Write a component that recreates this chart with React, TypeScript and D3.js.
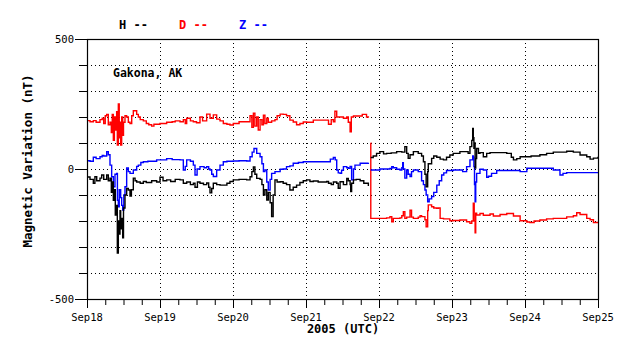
import React from "react";
import * as d3 from "d3";

// time in hours since 2005-09-18 00:00 UTC, value in nT; null marks a data gap
const hSeries: ([number, number] | null)[] = [
  [0.1,-31],[0.99,-40],[2.08,-55],[2.6,-30],[3.2,-45],[4.27,-35],[4.82,-23],[5.5,-40],[6.47,-23],[7.0,-45],[7.56,-35],[8.0,-90],[8.3,-50],[8.66,-120],[9.0,-80],[9.3,-177],[9.75,-140],[9.97,-323],[10.3,-200],[10.6,-250],[10.85,-160],[11.07,-230],[11.4,-190],[11.73,-265],[12.0,-150],[12.49,-100],[13.04,-75],[13.59,-81],[14.14,-104],[14.6,-80],[15.23,-35],[15.8,-45],[16.33,-50],[17.5,-55],[18.52,-48],[19.5,-52],[21.26,-45],[22.9,-50],[24.0,-32],[25.0,-45],[26.19,-42],[27.5,-48],[29,-40],[30.58,-42],[31.67,-55],[32.77,-50],[34.0,-60],[34.96,-55],[35.51,-70],[36.3,-50],[37.15,-55],[38.3,-60],[39.34,-54],[40.0,-70],[40.44,-92],[41.0,-75],[41.53,-55],[42.63,-60],[43.73,-62],[44.82,-62],[46,-55],[47.0,-48],[48.1,-42],[50,-40],[52.5,-42],[53.6,-30],[54.2,-10],[54.7,8],[55.2,-20],[55.8,-36],[56.9,-40],[57.5,-60],[58.0,-100],[58.5,-80],[59.1,-119],[59.6,-90],[60.2,-130],[60.7,-183],[61.2,-100],[61.8,-42],[62.5,-50],[63.5,-49],[64.5,-55],[65.6,-60],[66.7,-81],[67.8,-70],[68.9,-62],[70,-52],[71.1,-45],[72.2,-42],[73.3,-48],[74.4,-46],[76,-50],[78.8,-48],[79.4,-55],[80.3,-60],[81.0,-50],[82.1,-55],[82.6,-74],[83.2,-49],[84.3,-60],[85.4,-36],[85.9,-45],[86.5,-60],[86.7,-87],[87.0,-55],[87.6,-42],[88.5,-40],[89.8,-45],[91.0,-55],[92.5,-65],
  null,
  [93.26,44],[94.1,50],[95.2,60],[96.3,67],[97.5,58],[98.5,60],[100,62],[101.8,67],[103.5,65],[104.5,86],[105.1,60],[105.6,41],[106.2,55],[107.3,67],[108.9,60],[109.5,60],[110.0,50],[110.6,28],[111.1,-20],[111.5,-68],[112.0,-10],[112.2,20],[113.3,41],[114,50],[115.0,45],[116.1,38],[117.2,35],[118.2,45],[119.3,54],[120.4,60],[122.6,67],[124.8,67],[125.3,60],[125.9,86],[126.5,110],[126.8,156],[127.0,120],[127.2,80],[127.3,100],[127.6,4],[127.8,40],[128.1,79],[128.7,60],[129.2,63],[130.3,47],[131.4,60],[132.5,63],[135.8,63],[138.0,60],[139.5,45],[140.2,35],[141.3,40],[142.4,47],[144.6,47],[146,50],[148.9,55],[151.1,60],[153.3,65],[155.5,65],[157.7,68],[159.9,65],[162.1,54],[164.3,47],[165.4,38],[166.5,42],[168.0,47],
];

const zSeries: ([number, number] | null)[] = [
  [0.1,32],[1.0,30],[2.08,45],[3.0,40],[4.27,47],[5.0,52],[5.5,50],[6.47,67],[7.0,55],[7.56,15],[8.11,-30],[8.66,-68],[9.2,-20],[9.75,-17],[10.0,-120],[10.3,-145],[10.6,-80],[11.07,-110],[11.4,-140],[11.73,-158],[12.1,-100],[12.49,-68],[13.04,4],[13.59,-10],[14.14,-17],[15.23,-4],[16.33,10],[16.88,15],[17.7,25],[18.52,28],[20,30],[22.9,35],[24,35],[26.19,40],[28,36],[30.58,35],[31.67,-4],[32.3,10],[32.77,35],[34.0,30],[34.96,15],[35.51,-23],[36.2,0],[37.15,9],[38.5,5],[39.34,9],[40.0,0],[40.44,-4],[41.0,-20],[41.53,-29],[42.63,-4],[43.73,15],[44.82,28],[46,30],[48.1,31],[50,32],[52.5,31],[53.6,47],[54.3,65],[54.9,79],[55.8,60],[56.9,47],[57.5,20],[58.0,-10],[58.5,-4],[59.1,-50],[59.6,-81],[60.2,-40],[60.7,-17],[61.8,-10],[63.5,-1],[64.5,0],[65.6,9],[66.7,12],[67.8,22],[69.5,25],[71.1,28],[74.4,28],[78.8,28],[80,38],[81.0,44],[81.6,35],[82.1,-4],[82.6,-15],[83.2,-17],[83.7,-5],[84.3,9],[85.4,5],[85.9,3],[86.5,10],[87.0,-42],[87.6,0],[88.1,15],[89.8,22],[92.5,24],
  null,
  [93.26,-4],[94.1,-4],[96.3,0],[98.5,0],[99.6,2],[100.2,9],[100.7,5],[101.8,-1],[102.9,-4],[103.5,5],[103.8,24],[104.0,0],[104.5,-35],[105.1,-4],[105.6,-20],[106.2,-29],[106.7,-10],[107.3,-4],[108.9,-10],[110.0,-45],[110.6,-60],[111.1,-81],[111.5,-100],[112.0,-126],[112.5,-115],[113.3,-106],[114,-90],[115.0,-62],[115.8,-45],[116.6,-23],[117.3,-15],[118.2,-6],[120.4,-4],[122.6,-4],[123.5,-10],[124.8,9],[125.9,35],[126.8,50],[127.0,45],[127.2,9],[127.4,-60],[127.6,-126],[127.8,-50],[128.1,-17],[129.2,-1],[130.3,-4],[131.4,-32],[132.0,-28],[133.0,-17],[134.7,-6],[138.0,-6],[140.2,-6],[142.4,-10],[144.6,3],[148.9,3],[151.1,3],[153.3,-4],[155.5,-23],[156.5,-17],[157.7,-14],[160,-14],[164.3,-14],[168.0,-14],
];

const dSeries: ([number, number] | null)[] = [
  [0.1,186],[1.0,182],[2.08,186],[3.0,180],[4.27,190],[5.0,195],[5.5,175],[6.0,205],[6.47,210],[7.0,170],[7.56,180],[8.0,140],[8.3,210],[8.66,110],[9.0,200],[9.3,150],[9.75,220],[9.97,92],[10.3,250],[10.6,120],[10.85,180],[11.07,92],[11.4,200],[11.73,130],[12.0,180],[12.49,205],[13.04,200],[13.59,180],[14.14,175],[14.7,205],[15.23,224],[16.33,210],[16.88,200],[17.5,190],[18.52,185],[19.5,175],[20.3,170],[21.26,165],[22.0,172],[22.9,172],[24,175],[26.19,180],[28,182],[29,185],[30.58,182],[31.67,190],[32.3,175],[32.77,195],[34,185],[34.96,182],[36,178],[37.15,200],[38,185],[39.34,211],[40.44,195],[41.53,208],[42.63,192],[43.73,185],[44.82,175],[46,172],[47.0,169],[48.1,175],[50,182],[52.5,182],[53.6,205],[54.2,160],[54.7,215],[55.2,165],[55.8,200],[56.3,150],[56.9,190],[57.5,170],[58.0,207],[58.5,175],[59.1,195],[59.6,180],[60.7,185],[61.8,190],[62.5,205],[63.5,211],[64.5,210],[65.6,205],[66.7,188],[67.8,181],[68.9,170],[70,175],[71.1,181],[72.2,180],[74.4,188],[76,188],[78.8,188],[79.4,172],[80.3,190],[81.0,182],[81.5,222],[82.1,200],[83.2,200],[84.3,195],[85.4,200],[85.9,180],[86.5,143],[86.9,200],[87.6,204],[89.8,204],[90.5,210],[91.9,200],[92.5,197],
  null,
  [93.26,100],[93.3,-190],[94.1,-190],[96.3,-190],[98.5,-188],[99.6,-183],[100.2,-203],[100.7,-190],[101.8,-190],[102.9,-188],[103.5,-180],[104.0,-164],[104.5,-190],[105.1,-185],[106.2,-158],[106.7,-185],[107.3,-190],[108.9,-185],[109.5,-180],[110.0,-183],[111.1,-195],[111.5,-222],[112.0,-160],[112.2,-138],[113.3,-145],[114.0,-150],[115.0,-151],[115.5,-150],[116.1,-190],[117.2,-192],[119.3,-199],[120.4,-198],[122.6,-196],[124.8,-203],[125.9,-209],[126.5,-200],[127.0,-132],[127.3,-200],[127.6,-245],[127.8,-170],[128.1,-177],[129.2,-171],[130.3,-178],[132.5,-173],[133.6,-181],[135.8,-175],[138.0,-171],[140.2,-181],[142.4,-199],[144.6,-204],[145.6,-206],[147,-200],[148.9,-196],[151.1,-192],[153.3,-190],[155.5,-190],[157.7,-184],[159.9,-180],[161.0,-168],[162.1,-175],[164.3,-190],[165.4,-195],[166.5,-206],[168.0,-209],
];

const dayLabels = ["Sep18", "Sep19", "Sep20", "Sep21", "Sep22", "Sep23", "Sep24", "Sep25"];
const yTickValues = [-500, -400, -300, -200, -100, 0, 100, 200, 300, 400, 500];
const yLabelValues = [-500, 0, 500];
const legendItems = [
  { name: "H", color: "#000000" },
  { name: "D", color: "#ff0000" },
  { name: "Z", color: "#0000ff" },
];
const seriesList = [
  { name: "D", color: "#ff0000", data: dSeries },
  { name: "Z", color: "#0000ff", data: zSeries },
  { name: "H", color: "#000000", data: hSeries },
];

const W = 638, H = 359;
const L = 87, R = 598, T = 39, B = 299;
const mono = "'DejaVu Sans Mono', 'Liberation Mono', monospace";

export default function App() {
  const x = d3.scaleLinear().domain([0, 168]).range([L, R]);
  const y = d3.scaleLinear().domain([-500, 500]).range([B, T]);
  const line = d3
    .line<[number, number] | null>()
    .defined((d) => d !== null)
    .curve(d3.curveStepAfter)
    .x((d) => x((d as [number, number])[0]))
    .y((d) => y((d as [number, number])[1]));

  const dayTicks = d3.range(0, 169, 24);
  const minorTicks = d3.range(0, 169, 6).filter((h) => h % 24 !== 0);

  return (
    <svg width={W} height={H} style={{ position: "absolute", left: 0, top: 0, background: "#fff" }}>
      <rect x={0} y={0} width={W} height={H} fill="#fff" />
      {/* grid */}
      {yTickValues.filter((v) => v !== 500 && v !== -500).map((v) => (
        <line key={"gy" + v} x1={L} x2={R} y1={y(v) + 0.5} y2={y(v) + 0.5} stroke="#000" strokeDasharray="1 3" />
      ))}
      {dayTicks.filter((h) => h !== 0 && h !== 168).map((h) => (
        <line key={"gx" + h} x1={x(h) + 0.5} x2={x(h) + 0.5} y1={T} y2={B} stroke="#000" strokeDasharray="1 3" />
      ))}
      {/* series */}
      <g fill="none" strokeWidth={1.4} strokeLinejoin="miter">
        {seriesList.map((s) => (
          <path key={s.name} d={line(s.data) || ""} stroke={s.color} />
        ))}
      </g>
      {/* frame */}
      <rect x={L + 0.5} y={T + 0.5} width={R - L} height={B - T} fill="none" stroke="#000" strokeWidth={1.2} />
      {/* y ticks */}
      {yTickValues.map((v) => (
        <line key={"ty" + v} x1={yLabelValues.includes(v) ? L - 12 : L - 8} x2={L} y1={y(v) + 0.5} y2={y(v) + 0.5} stroke="#000" />
      ))}
      {yLabelValues.map((v) => (
        <text key={"ly" + v} x={L - 13} y={y(v) + 4} textAnchor="end" fontFamily={mono} fontSize={10.5} fill="#000">
          {v}
        </text>
      ))}
      {/* x ticks */}
      {dayTicks.map((h) => (
        <line key={"tx" + h} x1={x(h) + 0.5} x2={x(h) + 0.5} y1={B} y2={B + 9} stroke="#000" />
      ))}
      {minorTicks.map((h) => (
        <line key={"mx" + h} x1={x(h) + 0.5} x2={x(h) + 0.5} y1={B} y2={B + 6} stroke="#000" />
      ))}
      {dayTicks.map((h, i) => (
        <text key={"lx" + h} x={x(h)} y={321} textAnchor="middle" fontFamily={mono} fontSize={10.5} fill="#000">
          {dayLabels[i]}
        </text>
      ))}
      <text x={343} y={333} textAnchor="middle" fontFamily={mono} fontSize={12} fontWeight="bold" fill="#000">
        2005 (UTC)
      </text>
      <text
        transform={`translate(32,${(T + B) / 2 - 8}) rotate(-90)`}
        textAnchor="middle"
        fontFamily={mono}
        fontSize={12.5}
        fontWeight="bold"
        fill="#000"
      >
        Magnetic Variation (nT)
      </text>
      <text x={113} y={77} fontFamily={mono} fontSize={11.5} fontWeight="bold" fill="#000">
        Gakona, AK
      </text>
      {legendItems.map((it, i) => (
        <text key={it.name} x={119 + i * 60} y={29} fontFamily={mono} fontSize={12} fontWeight="bold" fill={it.color}>
          {it.name + " --"}
        </text>
      ))}
    </svg>
  );
}
